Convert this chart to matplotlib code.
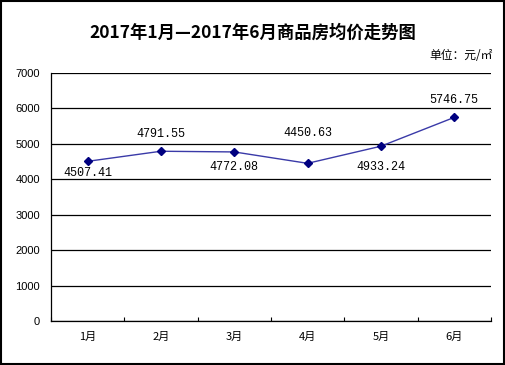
import matplotlib
matplotlib.use("Agg")
import matplotlib.pyplot as plt
from matplotlib.patches import Rectangle

months = ["1月", "2月", "3月", "4月", "5月", "6月"]
prices = [4507.41, 4791.55, 4772.08, 4450.63, 4933.24, 5746.75]
yticks = [0, 1000, 2000, 3000, 4000, 5000, 6000, 7000]
# vertical offset of each value label, in pixels (+ above, - below)
label_dy = [-12, 17, -15, 30, -21, 17]

plt.rcParams['font.family'] = ['Noto Sans CJK SC', 'DejaVu Sans']

fig = plt.figure(figsize=(5.05, 3.65), dpi=100)
ax = fig.add_axes([0.101, 0.1205, 0.871, 0.6795])

x = list(range(len(months)))
ax.plot(x, prices, color="#3a3aa8", lw=1.0, marker="D", markersize=4.5,
        markerfacecolor="#000080", markeredgecolor="#000080", zorder=3)

for xi, v, dy in zip(x, prices, label_dy):
    ax.annotate(f"{v:.2f}", (xi, v), xytext=(0, dy * 0.72), textcoords="offset points",
                ha="center", va="center", fontsize=8.5, family="Liberation Mono")

ax.set_xlim(-0.5, 5.5)
ax.set_ylim(0, 7000)
ax.set_yticks(yticks)
ax.set_yticklabels([str(t) for t in yticks], fontsize=8, family="Liberation Sans")
ax.set_xticks([i + 0.5 for i in range(-1, 6)])
ax.set_xticklabels([])
ax.set_xticks(x, minor=True)
ax.set_xticklabels(months, minor=True, fontsize=8)
ax.tick_params(axis="x", which="minor", length=0, pad=8)
ax.tick_params(axis="x", which="major", length=3, direction="in", width=0.8)
ax.tick_params(axis="y", length=0, pad=8)
ax.grid(axis="y", color="black", lw=0.9)
ax.set_axisbelow(True)
for side in ["top", "right"]:
    ax.spines[side].set_visible(False)
ax.spines["left"].set_linewidth(0.9)
ax.spines["bottom"].set_linewidth(0.9)

fig.text(0.5, 0.91, "2017年1月—2017年6月商品房均价走势图", ha="center", va="center",
         fontsize=12.5, fontweight="bold")
fig.text(0.975, 0.848, "单位：元/㎡", ha="right", va="center", fontsize=8.5)

fig.patches.append(Rectangle((0.001, 0.002), 0.997, 0.996, transform=fig.transFigure,
                             fill=False, edgecolor="black", lw=1.5))

fig.savefig("out.png", dpi=100)
